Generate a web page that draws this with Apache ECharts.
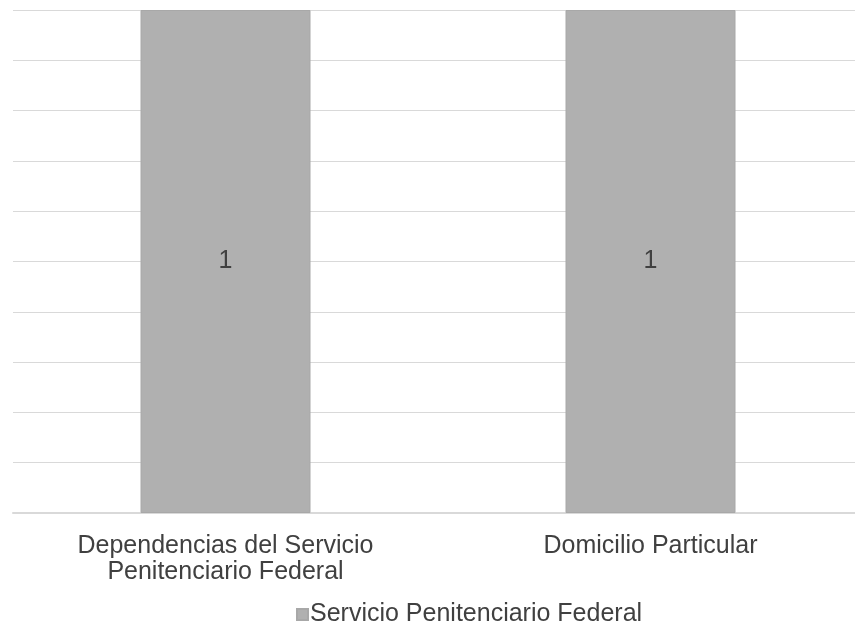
<!DOCTYPE html>
<html><head><meta charset="utf-8">
<script src="https://cdn.jsdelivr.net/npm/echarts@6/dist/echarts.min.js"></script>
<style>html,body{margin:0;padding:0;background:#fff;overflow:hidden}#c{width:863px;height:628px}</style>
</head><body><div id="c"></div>
<script>
const categories = ['Dependencias del Servicio\nPenitenciario Federal', 'Domicilio Particular'];
const seriesName = 'Servicio Penitenciario Federal';
const values = [1, 1];

const FONT = 'Liberation Sans, Arial, sans-serif';
const chart = echarts.init(document.getElementById('c'));
chart.setOption({
  animation: false,
  textStyle: { fontFamily: FONT },
  grid: { left: 13, right: 0, top: 10, bottom: 115, containLabel: false },
  legend: {
    bottom: -4, left: 291,
    data: [seriesName],
    icon: 'rect', itemWidth: 11, itemHeight: 11, itemGap: 4,
    textStyle: { fontSize: 25, color: '#404040', fontFamily: FONT, padding: [0, 0, 0, -3] }
  },
  xAxis: {
    type: 'category', data: categories,
    axisLine: { lineStyle: { color: '#d9d9d9', width: 2 } },
    axisTick: { show: false },
    axisLabel: { fontSize: 25, color: '#404040', lineHeight: 26, margin: 20, interval: 0 }
  },
  yAxis: {
    type: 'value', min: 0, max: 1, interval: 0.1,
    axisLabel: { show: false }, axisLine: { show: false }, axisTick: { show: false },
    splitLine: { lineStyle: { color: '#d9d9d9', width: 1 } }
  },
  series: [{
    type: 'bar', name: seriesName, data: values, barWidth: '40%',
    itemStyle: { color: '#b0b0b0', borderColor: '#a8a8a8', borderWidth: 1 },
    label: { show: true, position: 'inside', fontSize: 25, color: '#404040' }
  }]
});
</script></body></html>
